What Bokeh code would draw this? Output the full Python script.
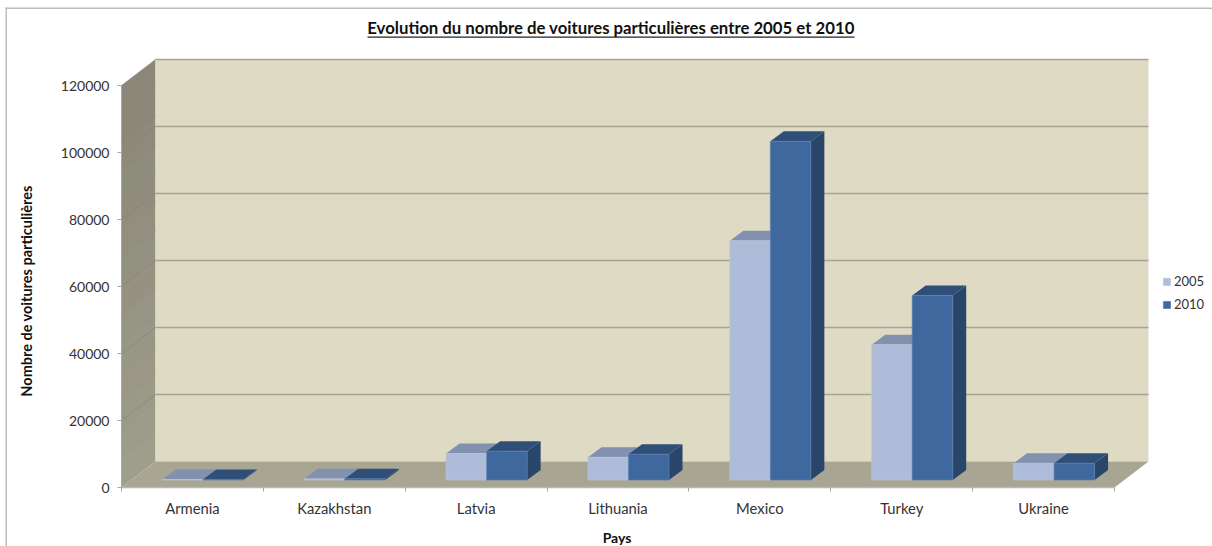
from bokeh.plotting import figure
from bokeh.models import (Range1d, FixedTicker, BoxAnnotation, Label, Legend, LegendItem)
from bokeh.embed import file_html
from bokeh.resources import INLINE
import numpy as np

countries = ["Armenia", "Kazakhstan", "Latvia", "Lithuania", "Mexico", "Turkey", "Ukraine"]
v2005 = [150, 350, 7900, 6800, 71400, 40400, 5000]
v2010 = [180, 400, 8600, 7700, 101100, 55100, 5000]
y_ticks = [0, 20000, 40000, 60000, 80000, 100000, 120000]
title_text = "Evolution du nombre de voitures particulières entre 2005 et 2010"
ylabel = "Nombre de voitures particulières"
xlabel = "Pays"
FONT = "Lato"
TXT = "#333333"

W, H = 1212, 546
L, B = 121, 59
PX_X = 1 / 141.857          # category units per pixel
PX_Y = 120000 / 402         # value units per pixel
n = len(countries)
WALL_DX, WALL_DY = 34 * PX_X, 26 * PX_Y
BAR_DX, BAR_DY = 13.5 * PX_X, 10 * PX_Y
BAR_W = 40.5 * PX_X
BAR_BASE = 7.5 * PX_Y
BAR_SHIFT = 10.5 * PX_X

p = figure(width=W, height=H, output_backend="svg", toolbar_location=None,
           x_range=Range1d(-L * PX_X, (W - L) * PX_X), y_range=Range1d(-B * PX_Y, (H - B) * PX_Y),
           min_border=0,
           background_fill_color="white", border_fill_color="white", outline_line_color=None)
p.styles = {"position": "absolute", "left": "0px", "top": "0px"}
p.grid.visible = False

# walls and floor
top = y_ticks[-1]
bands = 14
edges = np.linspace(0, top, bands + 1)
c0, c1 = np.array([0x9f, 0x9d, 0x8c]), np.array([0x8a, 0x87, 0x78])
for i in range(bands):
    c = c0 + (c1 - c0) * i / (bands - 1)
    col = "#%02x%02x%02x" % tuple(int(k) for k in c)
    lo, hi = edges[i], top if i == bands - 1 else edges[i + 1] + 2 * PX_Y
    p.patch([0, WALL_DX, WALL_DX, 0], [lo, lo + WALL_DY, hi + WALL_DY, hi],
            fill_color=col, line_color=None)
p.patch([WALL_DX, n + WALL_DX, n + WALL_DX, WALL_DX],
        [WALL_DY, WALL_DY, top + WALL_DY, top + WALL_DY], fill_color="#dfdac3", line_color=None)
p.patch([0, n, n + WALL_DX, WALL_DX], [0, 0, WALL_DY, WALL_DY], fill_color="#a8a592", line_color=None)

for v in y_ticks[1:]:
    p.line([WALL_DX, n + WALL_DX], [v + WALL_DY, v + WALL_DY], line_color="#a6a493", line_width=1.6)
    p.line([0, WALL_DX], [v, v + WALL_DY], line_color="#7f7d6e", line_width=0.8, line_alpha=0.6)

# bars
def bar(i, off, v, front, topc, side, edge):
    x0 = i + 0.5 + BAR_SHIFT + off
    x1 = x0 + BAR_W
    b, t = BAR_BASE, BAR_BASE + v
    p.patch([x1, x1 + BAR_DX, x1 + BAR_DX, x1], [b, b + BAR_DY, t + BAR_DY, t], fill_color=side, line_color=None)
    p.patch([x0, x1, x1 + BAR_DX, x0 + BAR_DX], [t, t, t + BAR_DY, t + BAR_DY], fill_color=topc, line_color=None)
    return p.quad(left=[x0], right=[x1], bottom=[b], top=[t], fill_color=front, line_color=edge, line_width=0.7)

r05 = r10 = None
for i in range(n):
    r05 = bar(i, -BAR_W, v2005[i], "#aebcd9", "#8291ae", "#7e8dab", "#b9c5dd")
    r10 = bar(i, 0, v2010[i], "#3e689e", "#2f4f79", "#294569", "#5d80ad")

leg = Legend(items=[LegendItem(label="2005", renderers=[r05]), LegendItem(label="2010", renderers=[r10])],
             location=(1162, 234), background_fill_alpha=0, border_line_color=None,
             glyph_width=9, glyph_height=9, spacing=7, padding=0, margin=0, label_standoff=3,
             label_text_font=FONT, label_text_font_size="13px", label_text_color=TXT, label_height=10)
p.add_layout(leg, "center")

# axes
xa, ya = p.xaxis[0], p.yaxis[0]
xa.fixed_location = 0
ya.fixed_location = 0
ya.ticker = FixedTicker(ticks=y_ticks)
ya.bounds = (0, top)
ya.formatter.use_scientific = False
ya.axis_line_color = "#a8a8a8"
ya.major_tick_line_color = "#a8a8a8"
ya.major_tick_out = 4; ya.major_tick_in = 0
ya.minor_tick_line_color = None
ya.major_label_text_font = FONT; ya.major_label_text_font_size = "14px"; ya.major_label_text_color = TXT
ya.major_label_standoff = 8

centers = [i + 0.5 for i in range(n)]
xa.ticker = FixedTicker(ticks=centers, minor_ticks=list(range(n + 1)))
xa.major_label_overrides = {c: name for c, name in zip(centers, countries)}
xa.bounds = (0, n)
xa.axis_line_color = "#b8b8b8"; xa.axis_line_width = 1.5
xa.major_tick_line_color = None
xa.minor_tick_line_color = "#a8a8a8"; xa.minor_tick_out = 4; xa.minor_tick_in = 0
xa.major_label_text_font = FONT; xa.major_label_text_font_size = "14.8px"; xa.major_label_text_color = TXT
xa.major_label_standoff = 5

# page positions, the frame fills the canvas; y counts upward from its bottom
def sy(v): return H - v

for l, r, t, b, col in [(5, 6.5, 7, H, "#bdbdbd"), (5, W, 7, 8.5, "#bdbdbd"), (367, 854, 36, 37.2, "#222222")]:
    p.add_layout(BoxAnnotation(left_units="screen", right_units="screen", top_units="screen", bottom_units="screen",
                               left=l, right=r, top=sy(t), bottom=sy(b),
                               fill_color=col, fill_alpha=1, line_color=None))

p.add_layout(Label(x=610.5, y=sy(27), x_units="screen", y_units="screen", text=title_text, text_align="center",
                   text_baseline="middle", text_font=FONT, text_font_style="bold", text_font_size="16.75px",
                   text_color="#111111"))
p.add_layout(Label(x=26, y=sy(290.5), x_units="screen", y_units="screen", text=ylabel, angle=90, angle_units="deg",
                   text_align="center", text_baseline="middle", text_font=FONT, text_font_style="bold",
                   text_font_size="14.5px", text_color="#111111"))
p.add_layout(Label(x=616.5, y=sy(536.5), x_units="screen", y_units="screen", text=xlabel, text_align="center",
                   text_baseline="middle", text_font=FONT, text_font_style="bold", text_font_size="14px",
                   text_color="#111111"))

open("out.html", "w").write(file_html(p, INLINE))
